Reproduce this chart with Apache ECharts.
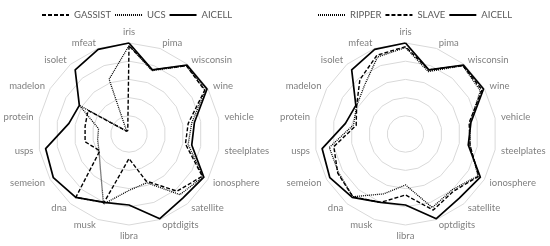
<!DOCTYPE html>
<html>
<head>
<meta charset="utf-8">
<script src="https://cdn.jsdelivr.net/npm/echarts@6/dist/echarts.min.js"></script>
<style>
html,body{margin:0;padding:0;background:#fff;}
#c{width:550px;height:246px;}
</style>
</head>
<body>
<div id="c"></div>
<script>
// Datasets listed clockwise from the top axis
const categories = ['iris','pima','wisconsin','wine','vehicle','steelplates','ionosphere','satellite','optdigits','libra','musk','dna','semeion','usps','protein','madelon','isolet','mfeat'];

const aicell  = [100, 75, 99, 99, 73, 70, 95, 92, 99, 78, 80, 91, 96, 93, 67, 63, 92, 99];
const gassist = [ 97, 75, 98, 96, 66, 63, 93, 82, 55, 27, 80, 91, 37, 49, 49, 52,  4,  4];
const ucs     = [ 97, 74, 98, 97, 70, 66, 94, 87, 57, 62, 82, 49, 38, 35, 34, 63,  4, 64];
const ripper  = [ 95, 73, 98, 95, 72, 72, 92, 80, 86, 56, 70, 90, 85, 85, 58, 62, 70, 90];
const slave   = [ 96, 75, 98, 97, 71, 72, 93, 82, 89, 67, 80, 90, 86, 80, 55, 62, 78, 92];

const leftLegend  = ['GASSIST','UCS','AICELL'];
const rightLegend = ['RIPPER','SLAVE','AICELL'];

// ECharts radar runs counter-clockwise: keep first axis, reverse the rest
function ccw(arr){ return [arr[0]].concat(arr.slice(1).reverse()); }

const FONT = 'Lato';
const indicator = ccw(categories).map(n => ({name:n, min:0, max:100}));

function radarCfg(cx){
  return {
    center:[cx,134], radius:91, startAngle:90, splitNumber:5, shape:'polygon',
    indicator: indicator,
    axisName:{color:'#7f7f7f', fontSize:9.5, fontFamily:FONT},
    nameGap:6,
    axisLine:{show:false},
    axisTick:{show:false},
    splitArea:{show:false},
    splitLine:{lineStyle:{color:'#d9d9d9', width:1}}
  };
}

const styles = {
  GASSIST:{type:[4,2], width:1.4},
  UCS:{type:[1,1], width:1.3},
  AICELL:{type:'solid', width:1.7},
  RIPPER:{type:[1,1], width:1.3},
  SLAVE:{type:[4,2], width:1.4}
};

function dummy(name){
  return {type:'line', name:name, data:[], symbol:'none', xAxisIndex:0, yAxisIndex:0,
          lineStyle:Object.assign({color:'#000'}, styles[name]), itemStyle:{color:'#000'}};
}
function radarSeries(name, idx, vals){
  return {type:'radar', name:name, radarIndex:idx, symbol:'none', silent:true,
          lineStyle:Object.assign({color:'#000'}, styles[name]),
          itemStyle:{color:'#000'},
          data:[{name:name, value:ccw(vals)}]};
}
function legendItems(names, widths){
  return names.map((n,i) => ({name:n, textStyle:{width:widths[i]}}));
}
const legendText = {color:'#595959', fontSize:9.5, fontFamily:FONT};

const chart = echarts.init(document.getElementById('c'), null, {renderer:'canvas'});
chart.setOption({
  animation:false,
  textStyle:{fontFamily:FONT},
  grid:{show:false, left:-50, top:-50, width:1, height:1},
  xAxis:{show:false, type:'value'},
  yAxis:{show:false, type:'value'},
  legend:[
    {data:legendItems(leftLegend,[34,23,30]), left:36, top:5, itemWidth:27, itemHeight:8, itemGap:3,
     itemStyle:{opacity:0}, textStyle:legendText},
    {data:legendItems(rightLegend,[33,28,30]), left:312, top:5, itemWidth:27, itemHeight:8, itemGap:3,
     itemStyle:{opacity:0}, textStyle:legendText}
  ],
  radar:[radarCfg(129), radarCfg(405.5)],
  series:[
    dummy('GASSIST'), dummy('UCS'), dummy('AICELL'), dummy('RIPPER'), dummy('SLAVE'),
    radarSeries('GASSIST',0,gassist),
    radarSeries('UCS',0,ucs),
    radarSeries('AICELL',0,aicell),
    radarSeries('RIPPER',1,ripper),
    radarSeries('SLAVE',1,slave),
    radarSeries('AICELL',1,aicell)
  ]
});
</script>
</body>
</html>
